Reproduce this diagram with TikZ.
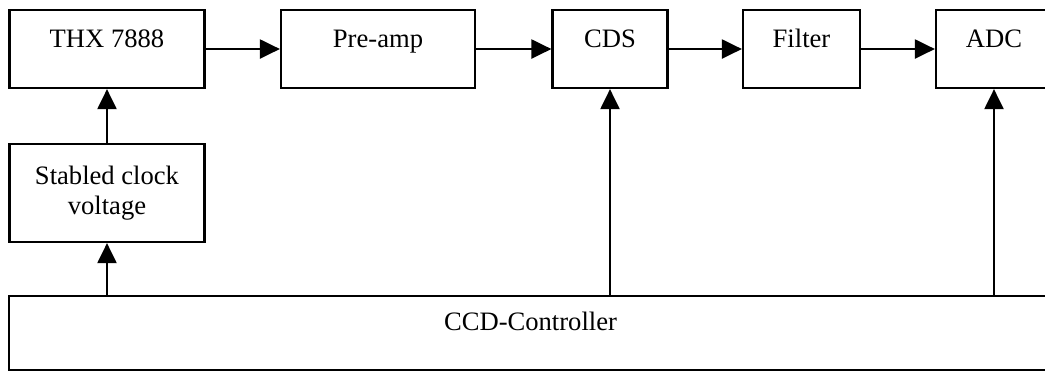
\documentclass[tikz,border=0pt]{standalone}
\usepackage{fontspec}
\setmainfont{Liberation Serif}
\usetikzlibrary{arrows.meta}
\begin{document}
\begin{tikzpicture}[x=0.5pt, y=-0.5pt,
  blk/.style={draw, line width=1.1pt, inner sep=0pt, font={\fontsize{13.3}{15}\selectfont}},
  sig/.style={line width=1.1pt, -{Triangle[length=10pt, width=9.5pt]}}]
  \useasboundingbox (0,0) rectangle (1045,372);
  \clip (0,0) rectangle (1045,372);
  % signal chain
  \foreach \nm/\cx/\w/\txt in {thx/107/97.5/THX 7888, pre/378/97/Pre-amp, cds/610/57.5/CDS, filt/801.5/58.5/Filter, adc/994/58/ADC} {
    \node[blk, minimum width=\w pt, text height=18.5pt, text depth=20.5pt] (\nm) at (\cx,49) {\txt};
  }
  \foreach \a/\b in {thx/pre, pre/cds, cds/filt, filt/adc} {
    \draw[sig] (\a) -- (\b);
  }
  % clock and controller
  \node[blk, minimum width=97.5pt, minimum height=49pt, align=center] (clk) at (107,193) {Stabled clock\\voltage};
  \node[blk, minimum width=521.5pt, text height=17pt, text depth=20pt] (ctrl) at (530.5,333) {CCD-Controller};
  % control lines
  \draw[sig] (ctrl.north -| clk) -- (clk);
  \draw[sig] (clk) -- (thx);
  \draw[sig] (ctrl.north -| cds) -- (cds);
  \draw[sig] (ctrl.north -| adc) -- (adc);
\end{tikzpicture}
\end{document}
